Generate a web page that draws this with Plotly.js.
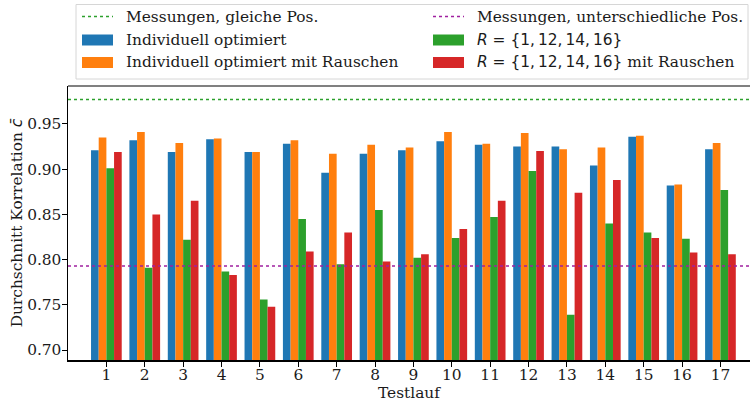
<!DOCTYPE html>
<html>
<head>
<meta charset="utf-8">
<script src="https://cdn.plot.ly/plotly-3.0.1.min.js"></script>
<style>html,body{margin:0;padding:0;background:#fff;}#chart{width:750px;height:402px;}</style>
</head>
<body>
<div id="chart"></div>
<script>
const testlauf = [1,2,3,4,5,6,7,8,9,10,11,12,13,14,15,16,17];
const individuell = [0.921,0.932,0.919,0.933,0.919,0.928,0.896,0.917,0.921,0.931,0.927,0.925,0.925,0.904,0.936,0.882,0.922];
const individuellRauschen = [0.935,0.941,0.929,0.934,0.919,0.932,0.917,0.927,0.924,0.941,0.928,0.940,0.922,0.924,0.937,0.883,0.929];
const rSet = [0.901,0.791,0.822,0.787,0.756,0.845,0.795,0.855,0.802,0.824,0.847,0.898,0.739,0.840,0.830,0.823,0.877];
const rSetRauschen = [0.919,0.850,0.865,0.783,0.748,0.809,0.830,0.798,0.806,0.834,0.865,0.920,0.874,0.888,0.824,0.808,0.806];
const messungGleich = 0.977;
const messungUnterschiedlich = 0.793;
const xRange = [0, 17.77];
const yRange = [0.689, 0.992];

const serif = 'DejaVu Serif, serif';
const fs = 15.4;
const txtColor = '#1a1a1a';
const mathSpan = t => '<span style="font-family:DejaVu Sans">' + t + '</span>';
const rLabel = mathSpan('<i>R</i> = {1,\u200912,\u200914,\u200916}');

const series = [
  {kind:'bar', y:individuell, name:'Individuell optimiert', color:'#1f77b4', col:0, row:1},
  {kind:'bar', y:individuellRauschen, name:'Individuell optimiert mit Rauschen', color:'#ff7f0e', col:0, row:2},
  {kind:'bar', y:rSet, name:rLabel, color:'#2ca02c', col:1, row:1},
  {kind:'bar', y:rSetRauschen, name:rLabel + ' mit Rauschen', color:'#d62728', col:1, row:2},
  {kind:'line', value:messungGleich, name:'Messungen, gleiche Pos.', color:'#2ca02c', col:0, row:0},
  {kind:'line', value:messungUnterschiedlich, name:'Messungen, unterschiedliche Pos.', color:'#a020a0', col:1, row:0}
];

const traces = series.map(s => s.kind === 'bar'
  ? {type:'bar', x:testlauf, y:s.y, name:s.name, marker:{color:s.color}, showlegend:false, hoverinfo:'skip'}
  : {type:'scatter', mode:'lines', x:xRange, y:[s.value, s.value], name:s.name, line:{color:s.color, dash:'dot', width:1.5}, showlegend:false, hoverinfo:'skip'});

// Legend drawn as a box with symbols and text (pixel layout converted to paper coordinates)
const M = {l:68, r:0, t:86, b:42};
const W = 750, H = 402;
const pw = W - M.l - M.r, ph = H - M.t - M.b;
const px = v => (v - M.l) / pw;
const py = v => (H - M.b - v) / ph;
const legBox = {x0:76, x1:748, y0:4.5, y1:79};
const colSym = [82, 433];
const symW = 31;
const colText = [125, 476];
const rowY = [16.5, 40, 62.5];

const shapes = [
  {type:'line', xref:'paper', yref:'paper', x0:0, x1:1, y0:1, y1:1, line:{color:'#808080', width:2}},
  {type:'rect', xref:'paper', yref:'paper', x0:px(legBox.x0), x1:px(legBox.x1), y0:py(legBox.y1), y1:py(legBox.y0),
   line:{color:'#d6d6d6', width:1}, fillcolor:'#fff', layer:'above'}
];
const annotations = [];
series.forEach(s => {
  const yc = rowY[s.row];
  const x0 = colSym[s.col];
  if (s.kind === 'bar') {
    shapes.push({type:'rect', xref:'paper', yref:'paper', x0:px(x0), x1:px(x0 + symW), y0:py(yc + 5.5), y1:py(yc - 5.5),
                 line:{width:0}, fillcolor:s.color, layer:'above'});
  } else {
    shapes.push({type:'line', xref:'paper', yref:'paper', x0:px(x0), x1:px(x0 + symW), y0:py(yc), y1:py(yc),
                 line:{color:s.color, width:1.5, dash:'dot'}, layer:'above'});
  }
  annotations.push({xref:'paper', yref:'paper', x:px(colText[s.col]), y:py(yc), xanchor:'left', yanchor:'middle',
                    text:s.name, showarrow:false, borderpad:0, font:{family:serif, size:fs, color:txtColor}});
});

const layout = {
  width:W, height:H,
  margin:M,
  paper_bgcolor:'#fff', plot_bgcolor:'#fff',
  font:{family:serif, size:fs, color:txtColor},
  barmode:'group', bargap:0.2, bargroupgap:0,
  showlegend:false,
  xaxis:{range:xRange, tickvals:testlauf, ticktext:testlauf.map(String),
         showgrid:false, zeroline:false, showline:true, linecolor:'#000', linewidth:1.5,
         ticks:'outside', ticklen:5, tickwidth:1, tickcolor:'#000', ticklabelstandoff:-5,
         tickfont:{family:serif, size:fs, color:txtColor},
         title:{text:'Testlauf', font:{family:serif, size:fs, color:txtColor}, standoff:2}},
  yaxis:{range:yRange, tickvals:[0.70,0.75,0.80,0.85,0.90,0.95], tickformat:'.2f',
         showgrid:false, zeroline:false, showline:true, linecolor:'#000', linewidth:1.5,
         ticks:'outside', ticklen:5, tickwidth:1, tickcolor:'#000', ticklabelstandoff:-3,
         tickfont:{family:serif, size:fs, color:txtColor},
         title:{text:'Durchschnitt Korrelation ' + mathSpan('<i>c̄</i>'), font:{family:serif, size:fs, color:txtColor}, standoff:0}},
  shapes:shapes,
  annotations:annotations
};

Plotly.newPlot('chart', traces, layout, {displayModeBar:false, staticPlot:true});
</script>
</body>
</html>
